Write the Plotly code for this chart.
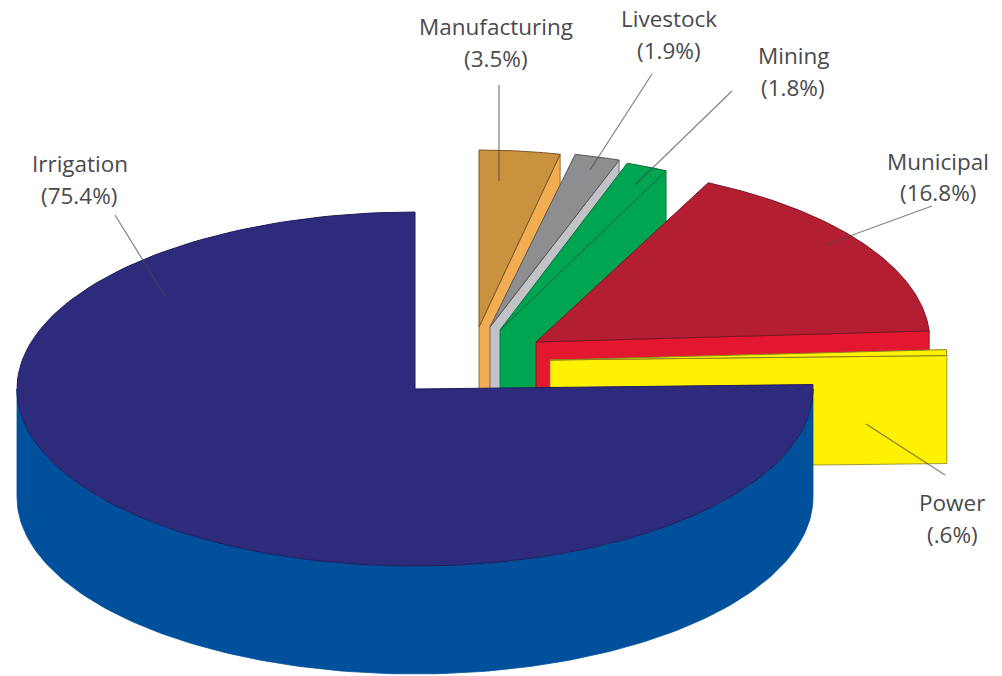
import numpy as np
import plotly.graph_objects as go

# Water withdrawal shares, clockwise from twelve o'clock
categories = ["Manufacturing", "Livestock", "Mining", "Municipal", "Power", "Irrigation"]
shares = [3.5, 1.9, 1.8, 16.8, 0.6, 75.4]
share_labels = ["(3.5%)", "(1.9%)", "(1.8%)", "(16.8%)", "(.6%)", "(75.4%)"]

# Pixel geometry of each exploded wedge: apex x, apex y, horizontal radius
apex_x = [479, 490, 500, 536, 550, 415]
apex_y = [327, 327, 330, 342, 360, 389]
radius_x = [372, 388, 380, 394, 397, 398]
RADIUS_Y = 177
DEPTH = 108

top_colors = ["#C8923F", "#8E8E90", "#00A551", "#B41E33", "#FFF200", "#2E2A7C"]
side_colors = ["#F2AC52", "#C2C3C6", "#00A551", "#E3172F", "#FFF200", "#00509B"]
edge_colors = ["#7A5524", "#55555A", "#0A6B3A", "#7D1522", "#8A8420", "#1F1C5C"]

# Label placement: name centre, percent centre
name_pos = [(496, 26), (669, 18), (793, 55), (938, 161), (952, 502), (80, 163)]
pct_pos = [(496, 58), (669, 50), (793, 87), (938, 192), (952, 534), (79, 195)]

# Leader lines from label to wedge
leader_from = [(499, 85), (652, 74), (732, 91), (932, 206), (945, 475), (115, 215)]
leader_to = [(499, 181), (590, 170), (635, 185), (825, 245), (866, 424), (165, 296)]

fig = go.Figure()


def add_poly(xs, ys, fill, edge, width=1.0):
    fig.add_trace(go.Scatter(
        x=xs, y=ys, mode="lines", fill="toself", fillcolor=fill,
        line=dict(color=edge, width=width), hoverinfo="skip", showlegend=False,
    ))


def ellipse(cx, cy, rx, a0, a1, n=160):
    t = np.linspace(a0, a1, n)
    return cx + rx * np.sin(t), cy - RADIUS_Y * np.cos(t)


angle_edges = np.radians(np.cumsum([0] + shares) * 3.6)

for i, name in enumerate(categories):
    a0, a1 = angle_edges[i], angle_edges[i + 1]
    cx, cy, rx = apex_x[i], apex_y[i], radius_x[i]
    ax, ay = ellipse(cx, cy, rx, a0, a1)

    if name == "Irrigation":
        # Rim of the front half of the main wedge
        rim_x, rim_y = ellipse(cx, cy, rx, np.pi / 2, 3 * np.pi / 2)
        add_poly(
            np.r_[rim_x, rim_x[::-1], rim_x[0]],
            np.r_[rim_y, rim_y[::-1] + DEPTH, rim_y[0]],
            side_colors[i], side_colors[i], 0.8,
        )
    else:
        # Cut face along the clockwise radius, dropped by the slab depth
        end_x, end_y = ax[-1], ay[-1]
        add_poly(
            [cx, end_x, end_x, cx, cx],
            [cy, end_y, end_y + DEPTH, cy + DEPTH, cy],
            side_colors[i], edge_colors[i], 0.8,
        )

    add_poly(np.r_[cx, ax, cx], np.r_[cy, ay, cy], top_colors[i], edge_colors[i], 1.0)

# Leader lines sit above the wedges
for (x0, y0), (x1, y1) in zip(leader_from, leader_to):
    fig.add_trace(go.Scatter(
        x=[x0, x1], y=[y0, y1], mode="lines",
        line=dict(color="rgba(70,70,70,0.65)", width=1.3),
        hoverinfo="skip", showlegend=False,
    ))

label_font = dict(family="Open Sans", size=22.5, color="#4A4A4C")
for name, pct, p0, p1 in zip(categories, share_labels, name_pos, pct_pos):
    for text, (x, y) in ((name, p0), (pct, p1)):
        fig.add_annotation(x=x, y=y, text=text, showarrow=False,
                           xanchor="center", yanchor="middle", font=label_font)

fig.update_xaxes(range=[0, 1002], visible=False, fixedrange=True)
fig.update_yaxes(range=[676, 0], visible=False, fixedrange=True)
fig.update_layout(
    width=1002, height=676, margin=dict(l=0, r=0, t=0, b=0),
    paper_bgcolor="white", plot_bgcolor="white", showlegend=False,
)

fig.write_html("out.html")
